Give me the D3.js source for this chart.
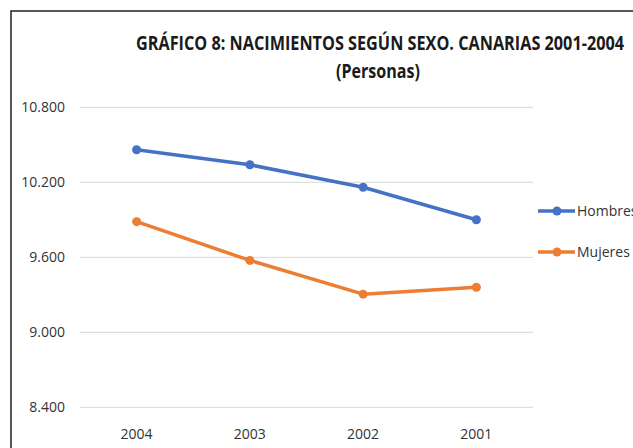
<!DOCTYPE html>
<html>
<head>
<meta charset="utf-8">
<script src="https://cdn.jsdelivr.net/npm/d3@7"></script>
<style>
  body { margin: 0; background: #fff; }
  text { font-family: "Liberation Sans Narrow", "Open Sans", sans-serif; }
</style>
</head>
<body>
<div id="chart"></div>
<script>
// data
var years = ["2004", "2003", "2002", "2001"];
var hombres = [10460, 10340, 10160, 9900];
var mujeres = [9885, 9575, 9305, 9360];
var yTicks = [8400, 9000, 9600, 10200, 10800];
var seriesNames = ["Hombres", "Mujeres"];
var seriesColors = ["#4472C4", "#ED7D31"];

var width = 633, height = 448;

var svg = d3.select("#chart")
  .append("svg")
  .attr("width", width)
  .attr("height", height);

// outer frame (only top/left visible)
svg.append("rect")
  .attr("x", 11).attr("y", 11)
  .attr("width", 700).attr("height", 500)
  .attr("fill", "none")
  .attr("stroke", "#222")
  .attr("stroke-width", 1.5);

// titles
svg.append("text")
  .attr("x", 380).attr("y", 50)
  .attr("text-anchor", "middle")
  .attr("font-weight", "bold")
  .attr("font-size", 19)
  .attr("textLength", 488)
  .attr("lengthAdjust", "spacingAndGlyphs")
  .attr("fill", "#1a1a1a")
  .text("GRÁFICO 8: NACIMIENTOS SEGÚN SEXO. CANARIAS 2001-2004");

svg.append("text")
  .attr("x", 378).attr("y", 78)
  .attr("text-anchor", "middle")
  .attr("font-weight", "bold")
  .attr("font-size", 19)
  .attr("textLength", 84)
  .attr("lengthAdjust", "spacingAndGlyphs")
  .attr("fill", "#1a1a1a")
  .text("(Personas)");

// scales
var x = d3.scaleBand()
  .domain(years)
  .range([80, 533]);

var y = d3.scaleLinear()
  .domain([8400, 10800])
  .range([407.3, 107.3]);

// gridlines
svg.selectAll(".grid")
  .data(yTicks)
  .enter()
  .append("line")
  .attr("class", "grid")
  .attr("x1", 80).attr("x2", 533)
  .attr("y1", function(d) { return y(d); })
  .attr("y2", function(d) { return y(d); })
  .attr("stroke", "#d9d9d9")
  .attr("stroke-width", 1);

// y axis labels
var fmt = function(d) { return d3.format(",.0f")(d).replace(",", "."); };
svg.selectAll(".ylab")
  .data(yTicks)
  .enter()
  .append("text")
  .attr("class", "ylab")
  .attr("x", 65)
  .attr("y", function(d) { return y(d) + 5; })
  .attr("text-anchor", "end")
  .attr("font-size", 14)
  .attr("fill", "#333")
  .text(fmt);

// x axis labels
svg.selectAll(".xlab")
  .data(years)
  .enter()
  .append("text")
  .attr("class", "xlab")
  .attr("x", function(d) { return x(d) + x.bandwidth() / 2; })
  .attr("y", 439)
  .attr("text-anchor", "middle")
  .attr("font-size", 14)
  .attr("fill", "#333")
  .text(function(d) { return d; });

// lines
var series = [hombres, mujeres];
var line = d3.line()
  .x(function(d, i) { return x(years[i]) + x.bandwidth() / 2; })
  .y(function(d) { return y(d); });

series.forEach(function(vals, s) {
  svg.append("path")
    .datum(vals)
    .attr("d", line)
    .attr("fill", "none")
    .attr("stroke", seriesColors[s])
    .attr("stroke-width", 3.5)
    .attr("stroke-linejoin", "round");

  svg.selectAll(".pt" + s)
    .data(vals)
    .enter()
    .append("circle")
    .attr("class", "pt" + s)
    .attr("cx", function(d, i) { return x(years[i]) + x.bandwidth() / 2; })
    .attr("cy", function(d) { return y(d); })
    .attr("r", 4.5)
    .attr("fill", seriesColors[s]);
});

// legend
var legendY = [211, 252];
seriesNames.forEach(function(name, s) {
  var g = svg.append("g");
  g.append("line")
    .attr("x1", 538).attr("x2", 575)
    .attr("y1", legendY[s]).attr("y2", legendY[s])
    .attr("stroke", seriesColors[s])
    .attr("stroke-width", 3.5);
  g.append("circle")
    .attr("cx", 557).attr("cy", legendY[s])
    .attr("r", 4.5)
    .attr("fill", seriesColors[s]);
  g.append("text")
    .attr("x", 577).attr("y", legendY[s] + 5)
    .attr("font-size", 14)
    .attr("fill", "#333")
    .text(name);
});
</script>
</body>
</html>
